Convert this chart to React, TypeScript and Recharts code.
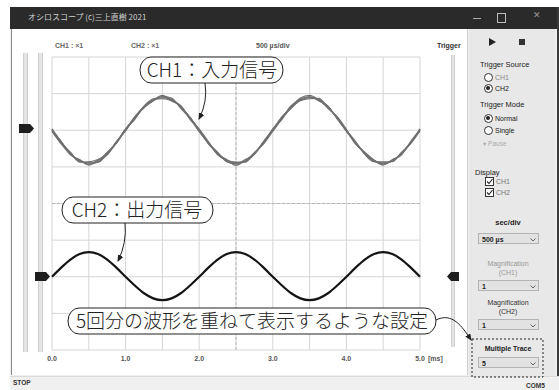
import React from 'react';
import { LineChart, Line, XAxis, YAxis, CartesianGrid, ReferenceLine } from 'recharts';

// time axis (ms)
const TIME_MS = [
  0, 0.125, 0.25, 0.375, 0.5, 0.625, 0.75, 0.875,
  1, 1.125, 1.25, 1.375, 1.5, 1.625, 1.75, 1.875,
  2, 2.125, 2.25, 2.375, 2.5, 2.625, 2.75, 2.875,
  3, 3.125, 3.25, 3.375, 3.5, 3.625, 3.75, 3.875,
  4, 4.125, 4.25, 4.375, 4.5, 4.625, 4.75, 4.875,
  5,
];

// CH1 (input) – five overlaid sweeps, in divisions around the CH1 zero level
const CH1_SWEEP_1 = [
  0.02, -0.30, -0.66, -0.80, -0.93, -0.85, -0.60, -0.36,
  0.03, 0.30, 0.66, 0.86, 0.88, 0.85, 0.62, 0.36,
  -0.02, -0.36, -0.62, -0.86, -0.92, -0.80, -0.66, -0.30,
  0.02, 0.37, 0.62, 0.85, 0.92, 0.80, 0.66, 0.31,
  -0.03, -0.35, -0.63, -0.85, -0.90, -0.84, -0.62, -0.33,
  0.04,
];
const CH1_SWEEP_2 = [
  -0.03, -0.37, -0.62, -0.86, -0.88, -0.86, -0.66, -0.31,
  -0.02, 0.36, 0.61, 0.81, 0.95, 0.80, 0.67, 0.30,
  0.03, -0.31, -0.67, -0.82, -0.87, -0.87, -0.61, -0.37,
  -0.03, 0.32, 0.67, 0.81, 0.86, 0.87, 0.60, 0.37,
  0.02, -0.38, -0.60, -0.81, -0.95, -0.80, -0.67, -0.30,
  0.00,
];
const CH1_SWEEP_3 = [
  0.04, -0.33, -0.60, -0.87, -0.86, -0.80, -0.67, -0.33,
  0.04, 0.33, 0.63, 0.80, 0.92, 0.88, 0.60, 0.33,
  0.00, -0.33, -0.65, -0.80, -0.96, -0.83, -0.62, -0.35,
  0.04, 0.30, 0.64, 0.88, 0.95, 0.82, 0.61, 0.35,
  0.00, -0.31, -0.66, -0.86, -0.86, -0.86, -0.60, -0.36,
  -0.02,
];
const CH1_SWEEP_4 = [
  -0.01, -0.36, -0.67, -0.82, -0.95, -0.81, -0.63, -0.32,
  0.01, 0.37, 0.65, 0.83, 0.86, 0.81, 0.66, 0.32,
  -0.04, -0.35, -0.60, -0.85, -0.90, -0.86, -0.65, -0.32,
  0.00, 0.34, 0.60, 0.82, 0.89, 0.85, 0.65, 0.32,
  -0.02, -0.35, -0.64, -0.82, -0.92, -0.82, -0.64, -0.35,
  0.03,
];
const CH1_SWEEP_5 = [
  0.01, -0.32, -0.63, -0.84, -0.90, -0.88, -0.62, -0.34,
  0.02, 0.32, 0.64, 0.84, 0.91, 0.83, 0.64, 0.35,
  0.01, -0.37, -0.63, -0.83, -0.89, -0.84, -0.63, -0.33,
  0.02, 0.35, 0.63, 0.83, 0.90, 0.83, 0.63, 0.34,
  0.01, -0.34, -0.62, -0.84, -0.90, -0.84, -0.63, -0.34,
  0.01,
];

// CH2 (output), in divisions around the CH2 zero level
const CH2_SWEEP = [
  0.00, 0.25, 0.47, 0.62, 0.67, 0.62, 0.47, 0.25,
  0.00, -0.24, -0.45, -0.59, -0.64, -0.59, -0.45, -0.24,
  0.00, 0.25, 0.47, 0.62, 0.67, 0.62, 0.47, 0.25,
  0.00, -0.24, -0.45, -0.59, -0.64, -0.59, -0.45, -0.24,
  0.00, 0.25, 0.47, 0.62, 0.67, 0.62, 0.47, 0.25,
  0.00,
];

const CH1_ZERO_DIV = 2;
const CH2_ZERO_DIV = -2;

const X_GRID_TICKS = [0, 0.5, 1, 1.5, 2, 2.5, 3, 3.5, 4, 4.5, 5];
const X_LABEL_VALUES = [0, 1, 2, 3, 4, 5];
const X_LABEL_TEXT = ['0.0', '1.0', '2.0', '3.0', '4.0', '5.0'];
const X_UNIT = '[ms]';
const Y_GRID_TICKS = [-4, -3, -2, -1, 0, 1, 2, 3, 4];

const SWEEPS = [CH1_SWEEP_1, CH1_SWEEP_2, CH1_SWEEP_3, CH1_SWEEP_4, CH1_SWEEP_5];

const data = TIME_MS.map((t, i) => {
  const row: Record<string, number> = { t, ch2: CH2_SWEEP[i] + CH2_ZERO_DIV };
  SWEEPS.forEach((s, k) => {
    row['ch1_' + k] = s[i] + CH1_ZERO_DIV;
  });
  return row;
});

const UI_FONT = '"Liberation Sans", "DejaVu Sans", sans-serif';
const JP_FONT = '"Noto Sans CJK JP", "Noto Sans", sans-serif';

const XTick = (props: any) => {
  const { x, y, payload } = props;
  const idx = X_LABEL_VALUES.indexOf(payload.value);
  if (idx < 0) return <g />;
  const isLast = idx === X_LABEL_VALUES.length - 1;
  return (
    <g>
      <text x={x} y={y + 11} textAnchor="middle" fontSize={7} fontWeight="bold" fill="#555" fontFamily={UI_FONT}>
        {X_LABEL_TEXT[idx]}
      </text>
      {isLast && (
        <text x={x + 8} y={y + 11} textAnchor="start" fontSize={7} fontWeight="bold" fill="#555" fontFamily={UI_FONT}>
          {X_UNIT}
        </text>
      )}
    </g>
  );
};

const EmptyTick = () => <g />;

const abs = (left: number, top: number, extra: React.CSSProperties = {}): React.CSSProperties => ({
  position: 'absolute',
  left,
  top,
  ...extra,
});

const Label = ({ x, y, text, size = 7.5, color = '#222', bold = false, center = false, w = 0 }: any) => (
  <div
    style={abs(center ? x - w / 2 : x, y, {
      fontSize: size,
      color,
      fontWeight: bold ? 'bold' : 'normal',
      fontFamily: UI_FONT,
      whiteSpace: 'nowrap',
      lineHeight: '1',
      width: center ? w : undefined,
      textAlign: center ? 'center' : 'left',
    })}
  >
    {text}
  </div>
);

const Radio = ({ x, y, checked, label, dim }: any) => (
  <>
    <div
      style={abs(x - 4.5, y - 4.5, {
        width: 7,
        height: 7,
        borderRadius: '50%',
        border: '1px solid #333',
        background: '#fff',
      })}
    >
      {checked && (
        <div style={abs(1.5, 1.5, { width: 4, height: 4, borderRadius: '50%', background: '#222' })} />
      )}
    </div>
    <Label x={x + 7} y={y - 3.5} text={label} size={7} color={dim ? '#888' : '#222'} />
  </>
);

const Check = ({ x, y, label }: any) => (
  <>
    <div style={abs(x - 4.5, y - 4.5, { width: 7, height: 7, border: '1px solid #333', background: '#fff' })}>
      <svg width={7} height={7} style={{ position: 'absolute', left: 0, top: 0 }}>
        <path d="M1,3.5 L3,5.5 L6.5,1" stroke="#222" strokeWidth={1.1} fill="none" />
      </svg>
    </div>
    <Label x={x + 7} y={y - 3.5} text={label} size={7} color="#777" />
  </>
);

const Combo = ({ y, text }: any) => (
  <div
    style={abs(478, y, {
      width: 61,
      height: 11,
      background: '#e2e2e2',
      border: '1px solid #b4b4b4',
      boxSizing: 'border-box',
    })}
  >
    <div style={abs(3, 1.5, { fontSize: 7, fontFamily: UI_FONT, color: '#222', fontWeight: 'bold', lineHeight: '1' })}>
      {text}
    </div>
    <svg width={6} height={4} style={{ position: 'absolute', left: 51, top: 3.5 }}>
      <path d="M0.5,0.5 L3,3 L5.5,0.5" stroke="#555" strokeWidth={0.9} fill="none" />
    </svg>
  </div>
);

const Bubble = ({ x1, x2, y1, y2, text, cx }: any) => {
  const h = y2 - y1;
  return (
    <g>
      <rect x={x1} y={y1} width={x2 - x1} height={h} rx={11} ry={h / 2} fill="#fff" stroke="#222" strokeWidth={1} />
      <text
        x={cx}
        y={(y1 + y2) / 2 + 7}
        textAnchor="middle"
        fontSize={19}
        fontFamily={JP_FONT}
        fontWeight={300}
        fill="#222"
      >
        {text}
      </text>
    </g>
  );
};

export default function App() {
  return (
    <div
      style={{
        position: 'fixed',
        left: 0,
        top: 0,
        width: 559,
        height: 390,
        background: '#fff',
        overflow: 'hidden',
      }}
    >
      {/* window client */}
      <div style={abs(10, 7, { width: 549, height: 383, background: '#efefef' })} />
      {/* title bar */}
      <div style={abs(10, 7, { width: 549, height: 22, background: '#2a2a2a' })} />
      <div
        style={abs(28, 13, {
          fontSize: 8,
          color: '#cfcfcf',
          fontFamily: JP_FONT,
          lineHeight: '1',
          whiteSpace: 'nowrap',
        })}
      >
        オシロスコープ (c)三上直樹 2021
      </div>
      <div style={abs(473, 18, { width: 8, height: 1, background: '#aaa' })} />
      <div style={abs(497, 13, { width: 7, height: 8, border: '1px solid #bbb' })} />
      <div style={abs(533, 11, { fontSize: 9, color: '#999', fontFamily: UI_FONT, lineHeight: '1' })}>✕</div>

      {/* plot panel */}
      <div style={abs(11, 29, { width: 455, height: 346, background: '#fff', borderRight: '1px solid #d0d0d0', borderLeft: '1px solid #888' })} />
      {/* right panel */}
      <div style={abs(469, 29, { width: 86, height: 347, background: '#e8e8e8' })} />
      <div style={abs(557, 7, { width: 2, height: 369, background: '#3a3a3a' })} />
      {/* status bar */}
      <div style={abs(10, 376, { width: 549, height: 14, background: '#f0f0f0', borderTop: '1px solid #dadada' })} />
      <Label x={13} y={380} text="STOP" size={6.5} color="#333" bold />
      <Label x={526} y={383} text="COM5" size={6.5} color="#333" bold />

      {/* header labels */}
      <Label x={55} y={42} text="CH1 : ×1" size={7} color="#666" bold />
      <Label x={131} y={42} text="CH2 : ×1" size={7} color="#666" bold />
      <Label x={256} y={42} text="500 µs/div" size={7} color="#555" bold />
      <Label x={437} y={42} text="Trigger" size={7} color="#333" bold />

      {/* left position sliders */}
      <div style={abs(23, 53, { width: 3, height: 299, background: '#e4e4e4', borderLeft: '1px solid #cfcfcf', borderRight: '1px solid #cfcfcf' })} />
      <div style={abs(38, 53, { width: 3, height: 299, background: '#e4e4e4', borderLeft: '1px solid #cfcfcf', borderRight: '1px solid #cfcfcf' })} />
      {/* trigger slider */}
      <div style={abs(451, 55, { width: 2, height: 292, background: '#e4e4e4', borderLeft: '1px solid #d0d0d0', borderRight: '1px solid #d0d0d0' })} />

      {/* chart */}
      <div style={abs(0, 0)}>
        <LineChart width={462} height={372} data={data} margin={{ top: 57, right: 42, bottom: 0, left: 52 }}>
          <CartesianGrid stroke="#d6d6d6" strokeWidth={1} />
          <XAxis
            dataKey="t"
            type="number"
            domain={[0, 5]}
            ticks={X_GRID_TICKS}
            interval={0}
            axisLine={false}
            tickLine={false}
            tickSize={0}
            tickMargin={0}
            height={22}
            tick={<XTick />}
          />
          <YAxis
            type="number"
            domain={[-4, 4]}
            ticks={Y_GRID_TICKS}
            interval={0}
            width={0}
            axisLine={false}
            tickLine={false}
            tick={<EmptyTick />}
          />
          <ReferenceLine y={0} stroke="#b5b5b5" strokeDasharray="3 2" />
          <ReferenceLine x={2.5} stroke="#b5b5b5" strokeDasharray="3 2" />
          {SWEEPS.map((_, k) => (
            <Line
              key={k}
              dataKey={'ch1_' + k}
              type="monotone"
              stroke="#707070"
              strokeWidth={1.2}
              dot={false}
              isAnimationActive={false}
            />
          ))}
          <Line dataKey="ch2" type="monotone" stroke="#151515" strokeWidth={2.2} dot={false} isAnimationActive={false} />
        </LineChart>
      </div>

      {/* slider markers and callouts */}
      <svg width={559} height={390} style={{ position: 'absolute', left: 0, top: 0, pointerEvents: 'none' }}>
        <defs>
          <marker id="ah" markerWidth={8} markerHeight={8} refX={6} refY={3} orient="auto" markerUnits="userSpaceOnUse">
            <path d="M0,0 L7,3 L0,6 Z" fill="#222" />
          </marker>
        </defs>
        <path d="M19,124 L30,124 L34,128.5 L30,133 L19,133 Z" fill="#1e1e1e" />
        <path d="M35,272 L46,272 L50,276.5 L46,281 L35,281 Z" fill="#1e1e1e" />
        <path d="M447,276.5 L451,272 L459,272 L459,281 L451,281 Z" fill="#1e1e1e" />

        <Bubble x1={140} x2={283} y1={57} y2={83} cx={212} text="CH1：入力信号" />
        <path d="M205,83 Q208,101 199,119" stroke="#222" strokeWidth={1} fill="none" markerEnd="url(#ah)" />
        <Bubble x1={62} x2={213} y1={197} y2={223} cx={137} text="CH2：出力信号" />
        <path d="M125,223 Q127,243 118,261" stroke="#222" strokeWidth={1} fill="none" markerEnd="url(#ah)" />
        <Bubble x1={68} x2={436} y1={308} y2={334} cx={252} text="5回分の波形を重ねて表示するような設定" />
        <path d="M436,320 C452,312 462,326 471,340" stroke="#222" strokeWidth={1} fill="none" markerEnd="url(#ah)" />
        <rect x={472} y={339} width={71} height={38} fill="none" stroke="#222" strokeWidth={1} strokeDasharray="2 2" />
      </svg>

      {/* right control panel */}
      <svg width={10} height={10} style={{ position: 'absolute', left: 488, top: 37 }}>
        <path d="M1,1 L8,5 L1,9 Z" fill="#222" />
      </svg>
      <div style={abs(519, 39, { width: 6, height: 6, background: '#333' })} />
      <Label x={480} y={61} text="Trigger Source" size={7.5} color="#222" />
      <Radio x={488} y={77} label="CH1" dim />
      <Radio x={488} y={88} label="CH2" checked />
      <Label x={480} y={101} text="Trigger Mode" size={7.5} color="#222" />
      <Radio x={488} y={118} label="Normal" checked />
      <Radio x={488} y={130} label="Single" />
      <Label x={483} y={140.5} text="▾ Pause" size={6.5} color="#aaa" />
      <Label x={475} y={169} text="Display" size={7.5} color="#222" />
      <Check x={489} y={181} label="CH1" />
      <Check x={489} y={192} label="CH2" />
      <Label x={508} y={219} w={70} center text="sec/div" size={7.5} color="#222" bold />
      <Combo y={233} text="500  µs" />
      <Label x={508} y={260} w={70} center text="Magnification" size={7} color="#999" />
      <Label x={508} y={269} w={70} center text="(CH1)" size={7} color="#999" />
      <Combo y={280} text="1" />
      <Label x={508} y={299} w={70} center text="Magnification" size={7} color="#333" />
      <Label x={508} y={308} w={70} center text="(CH2)" size={7} color="#333" />
      <Combo y={319} text="1" />
      <Label x={508} y={345} w={70} center text="Multiple Trace" size={7} color="#222" bold />
      <Combo y={357} text="5" />
    </div>
  );
}
